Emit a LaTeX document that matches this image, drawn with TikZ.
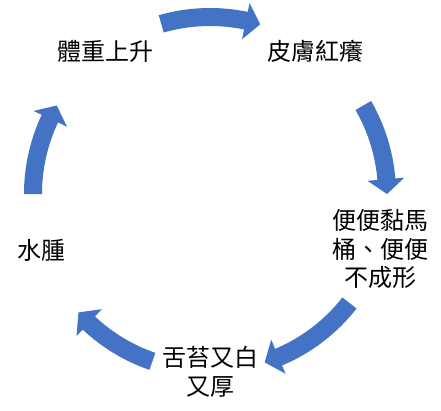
\documentclass[tikz,border=0pt]{standalone}
\usepackage{fontspec}
\newfontfamily\cjk{Noto Sans CJK TC}
\definecolor{arrowblue}{HTML}{4472C4}
\tikzset{
  label text/.style={font=\cjk\fontsize{24}{28.5}\selectfont, align=center, inner sep=0pt, text=black},
  cycle arrow/.style={fill=arrowblue, draw=none}
}
% #1 tail angle, #2 tip angle (clockwise, #1 > #2)
\newcommand\cyclearrow[2]{%
  \pgfmathsetmacro\hb{#2+4.8}%
  \fill[cycle arrow] (#1:186pt) arc[start angle=#1, end angle=\hb, radius=186pt]
    -- (\hb:195pt) -- (#2:177pt) -- (\hb:158pt) -- (\hb:168pt)
    arc[start angle=\hb, end angle=#1, radius=168pt] -- cycle;}
\begin{document}
\begin{tikzpicture}[x=1pt,y=1pt]
\useasboundingbox (0,0) rectangle (441,410);
\fill[white] (0,0) rectangle (441,410);
\begin{scope}[shift={(210,216)}]
  \cyclearrow{106}{73.5}
  \cyclearrow{30}{0}
  \cyclearrow{-38}{-72}
  \cyclearrow{-109}{-138}
  \cyclearrow{180}{150}
\end{scope}
\node[label text] (weight) at (105,359) {體重上升};
\node[label text] (skin) at (315,359) {皮膚紅癢};
\node[label text] (stool) at (380,161) {便便黏馬\\桶、便便\\不成形};
\node[label text] (tongue) at (210,38) {舌苔又白\\又厚};
\node[label text] (edema) at (41,160) {水腫};
\end{tikzpicture}
\end{document}
